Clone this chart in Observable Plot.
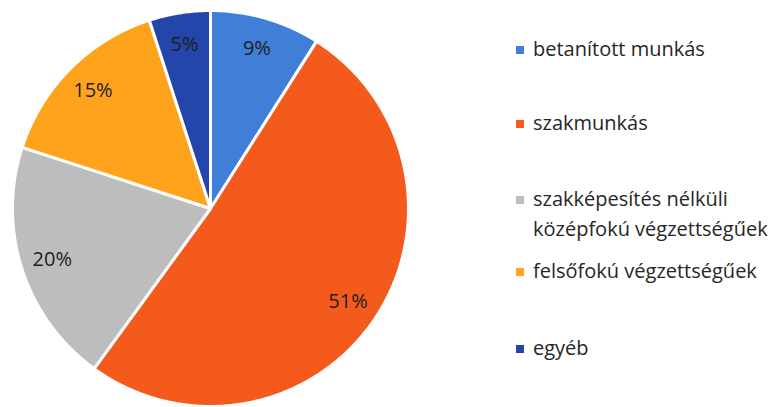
<!DOCTYPE html>
<html>
<head>
<meta charset="utf-8">
<script src="https://cdn.jsdelivr.net/npm/d3@7"></script>
<script src="https://cdn.jsdelivr.net/npm/@observablehq/plot@0.6"></script>
<style>
  body { margin: 0; background: #fff; }
  #wrap { position: relative; width: 782px; height: 407px; overflow: hidden; font-family: "Open Sans", sans-serif; }
  #chart { position: absolute; left: 0; top: 0; }
  .leg { position: absolute; left: 516px; font-size: 20px; color: #262626; line-height: 30px; }
  .leg .sw { position: absolute; left: 0; top: 12px; width: 8px; height: 8px; }
  .leg .tx { margin-left: 17px; white-space: nowrap; }
</style>
</head>
<body>
<div id="wrap"><div id="chart"></div></div>
<script>
const categories = ["betanított munkás", "szakmunkás", "szakképesítés nélküli középfokú végzettségűek", "felsőfokú végzettségűek", "egyéb"];
const legendLines = [["betanított munkás"], ["szakmunkás"], ["szakképesítés nélküli", "középfokú végzettségűek"], ["felsőfokú végzettségűek"], ["egyéb"]];
const values = [9, 51, 20, 15, 5];
const labels = ["9%", "51%", "20%", "15%", "5%"];
const colors = ["#3F7FD8", "#F45A1C", "#BDBDBD", "#FFA31C", "#2446AA"];

const W = 782, H = 407;
const cx = 210, cy = 208, R = 198;

const arcs = d3.pie().sort(null).startAngle(0).endAngle(2 * Math.PI)(values);
const pts = [];
arcs.forEach((a, i) => {
  const cat = categories[i];
  pts.push({cat, x: 0, y: 0});
  const n = Math.max(2, Math.ceil((a.endAngle - a.startAngle) / 0.01));
  for (let k = 0; k <= n; k++) {
    const t = a.startAngle + (a.endAngle - a.startAngle) * k / n;
    pts.push({cat, x: Math.sin(t), y: Math.cos(t)});
  }
  pts.push({cat, x: 0, y: 0});
});
const labelData = arcs.map((a, i) => {
  const m = (a.startAngle + a.endAngle) / 2;
  return {cat: categories[i], label: labels[i], x: 0.84 * Math.sin(m), y: 0.84 * Math.cos(m)};
});

const chart = Plot.plot({
  width: W, height: H,
  margin: 0,
  x: {domain: [-cx / R, (W - cx) / R], axis: null},
  y: {domain: [-(H - cy) / R, cy / R], axis: null},
  color: {domain: categories, range: colors},
  style: {background: "transparent", fontFamily: "'Open Sans', sans-serif"},
  marks: [
    Plot.line(pts, {x: "x", y: "y", z: "cat", fill: "cat", stroke: "white", strokeWidth: 3, strokeLinejoin: "round", curve: "linear"}),
    Plot.text(labelData, {x: "x", y: "y", text: "label", fontSize: 20, fill: "#1e1e1e"})
  ]
});
document.getElementById("chart").appendChild(chart);

const tops = [34, 108, 184, 256, 333];
const wrap = document.getElementById("wrap");
legendLines.forEach((lines, i) => {
  const d = document.createElement("div");
  d.className = "leg";
  d.style.top = tops[i] + "px";
  const sw = document.createElement("div");
  sw.className = "sw";
  sw.style.background = colors[i];
  d.appendChild(sw);
  lines.forEach(l => {
    const t = document.createElement("div");
    t.className = "tx";
    t.textContent = l;
    d.appendChild(t);
  });
  wrap.appendChild(d);
});
</script>
</body>
</html>
